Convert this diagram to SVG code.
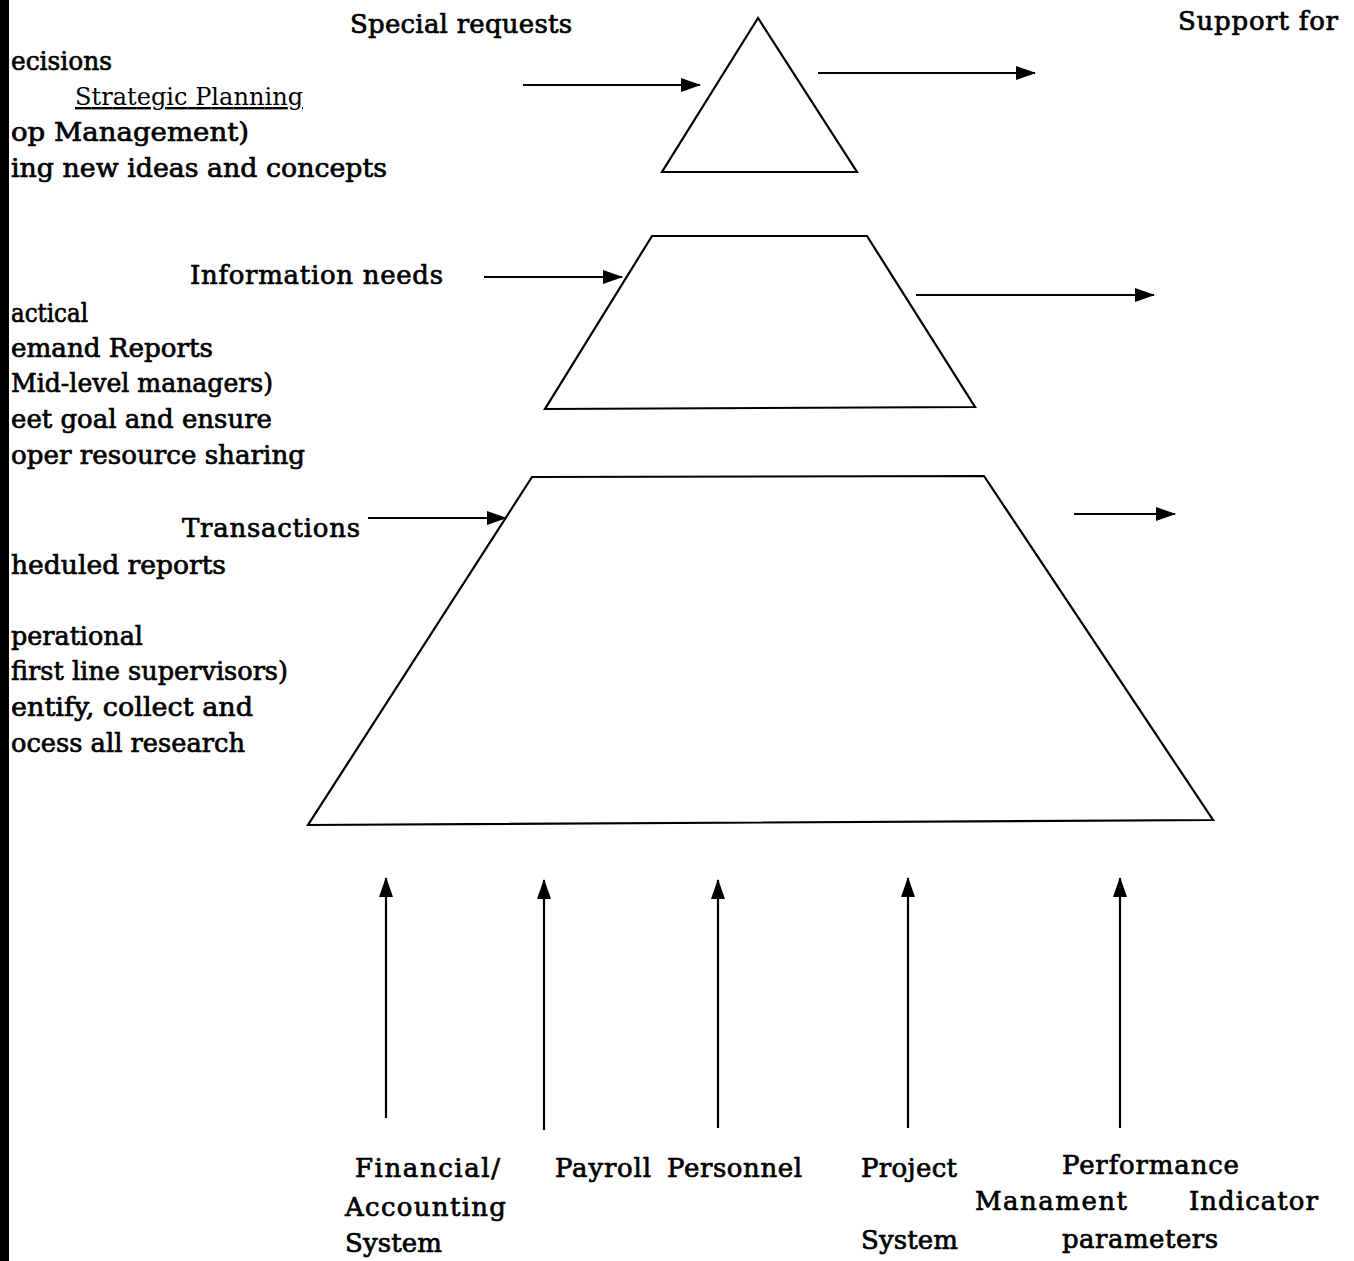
<svg xmlns="http://www.w3.org/2000/svg" width="1354" height="1261" viewBox="0 0 1354 1261">
<style>
.t{font-family:"DejaVu Serif","Liberation Serif",serif;font-size:26px;fill:#000;stroke:#000;stroke-width:0.7}
.u{font-family:"DejaVu Serif","Liberation Serif",serif;font-size:24px;fill:#000;text-decoration:underline}
.s{fill:none;stroke:#000;stroke-width:2.2}
.c{stroke:#000;stroke-width:2.2;fill:none;marker-end:url(#ah)}
</style>
<defs>
<marker id="ah" markerWidth="20" markerHeight="14" refX="19" refY="7" orient="auto" markerUnits="userSpaceOnUse">
<path d="M0,0 L20,7 L0,14 Z" fill="#000"/>
</marker>
</defs>
<rect width="1354" height="1261" fill="#fff"/>
<g id="top-level">
<polygon class="s" points="758,18 662,172 857,172"/>
</g>
<g id="middle-level">
<polygon class="s" points="652,236 867,236 975,407 545,409"/>
</g>
<g id="bottom-level">
<polygon class="s" points="532,477 984,476 1213,820 308,825"/>
</g>
<g id="connectors">
<line class="c" x1="523" y1="85" x2="700" y2="85"/>
<line class="c" x1="818" y1="73" x2="1035" y2="73"/>
<line class="c" x1="484" y1="277" x2="622" y2="277"/>
<line class="c" x1="916" y1="295" x2="1154" y2="295"/>
<line class="c" x1="368" y1="518" x2="506" y2="518"/>
<line class="c" x1="1074" y1="514" x2="1175" y2="514"/>
<line class="c" x1="386" y1="1118" x2="386" y2="878"/>
<line class="c" x1="544" y1="1130" x2="544" y2="880"/>
<line class="c" x1="718" y1="1128" x2="718" y2="880"/>
<line class="c" x1="908" y1="1128" x2="908" y2="878"/>
<line class="c" x1="1120" y1="1128" x2="1120" y2="878"/>
</g>
<g id="labels">
<text class="t" x="350" y="33" textLength="222">Special requests</text>
<text class="t" x="1178" y="30" textLength="160">Support for</text>
<text class="t" x="11" y="70" textLength="101" lengthAdjust="spacingAndGlyphs">ecisions</text>
<text class="u" x="75" y="105" textLength="228">Strategic Planning</text>
<text class="t" x="11" y="141" textLength="238" lengthAdjust="spacingAndGlyphs">op Management)</text>
<text class="t" x="11" y="177" textLength="376" lengthAdjust="spacingAndGlyphs">ing new ideas and concepts</text>
<text class="t" x="190" y="284" textLength="253">Information needs</text>
<text class="t" x="11" y="322" textLength="77" lengthAdjust="spacingAndGlyphs">actical</text>
<text class="t" x="11" y="357" textLength="202" lengthAdjust="spacingAndGlyphs">emand Reports</text>
<text class="t" x="11" y="392" textLength="262" lengthAdjust="spacingAndGlyphs">Mid-level managers)</text>
<text class="t" x="11" y="428" textLength="261" lengthAdjust="spacingAndGlyphs">eet goal and ensure</text>
<text class="t" x="11" y="464" textLength="294" lengthAdjust="spacingAndGlyphs">oper resource sharing</text>
<text class="t" x="182" y="537" textLength="178">Transactions</text>
<text class="t" x="11" y="574" textLength="215" lengthAdjust="spacingAndGlyphs">heduled reports</text>
<text class="t" x="11" y="645" textLength="132" lengthAdjust="spacingAndGlyphs">perational</text>
<text class="t" x="11" y="680" textLength="277" lengthAdjust="spacingAndGlyphs">first line supervisors)</text>
<text class="t" x="11" y="716" textLength="242" lengthAdjust="spacingAndGlyphs">entify, collect and</text>
<text class="t" x="11" y="752" textLength="234" lengthAdjust="spacingAndGlyphs">ocess all research</text>
<text class="t" x="355" y="1177" textLength="145">Financial/</text>
<text class="t" x="345" y="1216" textLength="161">Accounting</text>
<text class="t" x="345" y="1252" textLength="97">System</text>
<text class="t" x="555" y="1177" textLength="96">Payroll</text>
<text class="t" x="667" y="1177" textLength="135">Personnel</text>
<text class="t" x="861" y="1177" textLength="96">Project</text>
<text class="t" x="861" y="1249" textLength="97">System</text>
<text class="t" x="1062" y="1174" textLength="177">Performance</text>
<text class="t" x="975" y="1210" textLength="152">Manament</text>
<text class="t" x="1189" y="1210" textLength="129">Indicator</text>
<text class="t" x="1062" y="1248" textLength="156">parameters</text>
</g>
<rect x="0" y="0" width="9" height="1261" fill="#000"/>
</svg>
